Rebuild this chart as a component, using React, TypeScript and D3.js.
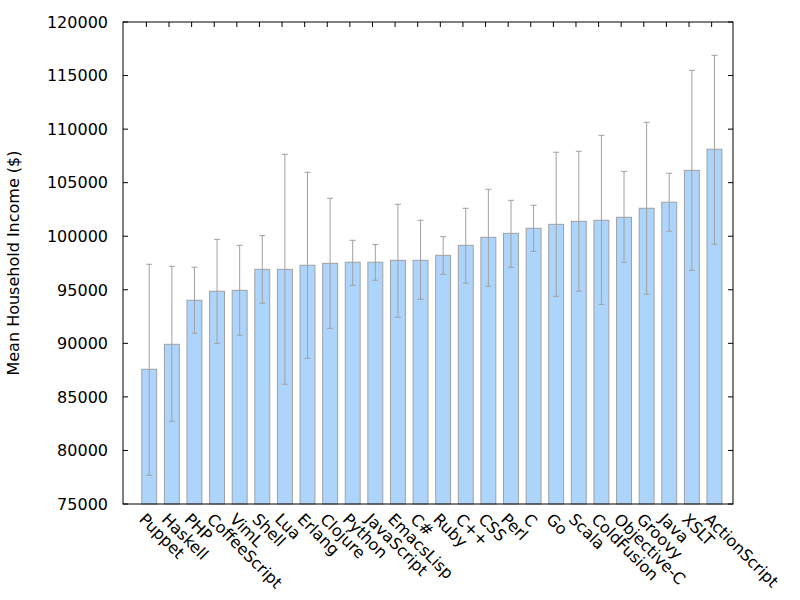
import * as d3 from "d3";

const languages = [
  "Puppet", "Haskell", "PHP", "CoffeeScript", "VimL", "Shell", "Lua", "Erlang",
  "Clojure", "Python", "JavaScript", "EmacsLisp", "C#", "Ruby", "C++", "CSS",
  "Perl", "C", "Go", "Scala", "ColdFusion", "Objective-C", "Groovy", "Java",
  "XSLT", "ActionScript",
];

// mean income per language
const means = [
  87580, 89910, 94020, 94860, 94950, 96910, 96910, 97290,
  97470, 97570, 97570, 97750, 97750, 98220, 99150, 99900,
  100270, 100740, 101110, 101390, 101490, 101770, 102610, 103170,
  106150, 108120,
];

// error bar ends
const lows = [
  77680, 82720, 90940, 90000, 90750, 93740, 86180, 88600,
  91400, 95420, 95890, 92430, 94110, 96450, 95610, 95330,
  97100, 98590, 94390, 94860, 93640, 97570, 94580, 100460,
  96820, 99250,
];
const highs = [
  97380, 97190, 97100, 99710, 99150, 100050, 107650, 105970,
  103540, 99620, 99210, 102980, 101490, 99960, 102610, 104380,
  103350, 102890, 107840, 107930, 109420, 106060, 110640, 105880,
  115490, 116890,
];

const yTicks = [75000, 80000, 85000, 90000, 95000, 100000, 105000, 110000, 115000, 120000];

const W = 800;
const H = 600;
const left = 123;
const right = 733;
const top = 22;
const bottom = 504;
const font = "DejaVu Sans, sans-serif";
const grey = "#a0a0a0";

export default function App() {
  const x = d3.scaleLinear().domain([-1.16, 25.82]).range([left, right]);
  const y = d3.scaleLinear().domain([75000, 120000]).range([bottom, top]);
  const unit = x(1) - x(0);
  const bw = unit * 0.66;
  const tickOff = -unit * 0.125;

  return (
    <svg width={W} height={H} style={{ position: "absolute", left: 0, top: 0, background: "#fff" }}>
      {/* bars */}
      {languages.map((name, i) => (
        <rect
          key={name}
          x={x(i) - bw / 2}
          y={y(means[i])}
          width={bw}
          height={bottom - y(means[i])}
          fill="#add5fc"
          stroke={grey}
          strokeWidth={1}
        />
      ))}

      {/* error bars */}
      {languages.map((name, i) => {
        const cx = x(i);
        return (
          <g key={name} stroke={grey} strokeWidth={1}>
            <line x1={cx} x2={cx} y1={y(lows[i])} y2={y(highs[i])} />
            <line x1={cx - 3} x2={cx + 3} y1={y(lows[i])} y2={y(lows[i])} />
            <line x1={cx - 3} x2={cx + 3} y1={y(highs[i])} y2={y(highs[i])} />
          </g>
        );
      })}

      {/* frame */}
      <rect x={left} y={top} width={right - left} height={bottom - top} fill="none" stroke="#000" strokeWidth={1} />

      {/* y ticks, mirrored */}
      {yTicks.map((t) => (
        <g key={t} stroke="#000">
          <line x1={left} x2={left + 5} y1={y(t)} y2={y(t)} />
          <line x1={right} x2={right - 5} y1={y(t)} y2={y(t)} />
        </g>
      ))}
      {yTicks.map((t) => (
        <text
          key={t}
          x={108}
          y={y(t)}
          dy="0.36em"
          textAnchor="end"
          fontFamily={font}
          fontSize={16}
          fill="#000"
        >
          {t}
        </text>
      ))}

      {/* x ticks (top mirror) */}
      {languages.map((name, i) => (
        <line key={name} x1={x(i) + tickOff} x2={x(i) + tickOff} y1={top} y2={top + 5} stroke="#000" />
      ))}

      {/* x labels */}
      {languages.map((name, i) => {
        const tx = x(i) + tickOff;
        const ty = bottom + 8;
        return (
          <text
            key={name}
            x={tx}
            y={ty}
            dy="0.72em"
            transform={`rotate(45, ${tx}, ${ty})`}
            textAnchor="start"
            fontFamily={font}
            fontSize={16}
            fill="#000"
          >
            {name}
          </text>
        );
      })}

      <text
        transform={`translate(19, ${(top + bottom) / 2}) rotate(-90)`}
        textAnchor="middle"
        fontFamily={font}
        fontSize={16}
        fill="#000"
      >
        Mean Household Income ($)
      </text>
    </svg>
  );
}
